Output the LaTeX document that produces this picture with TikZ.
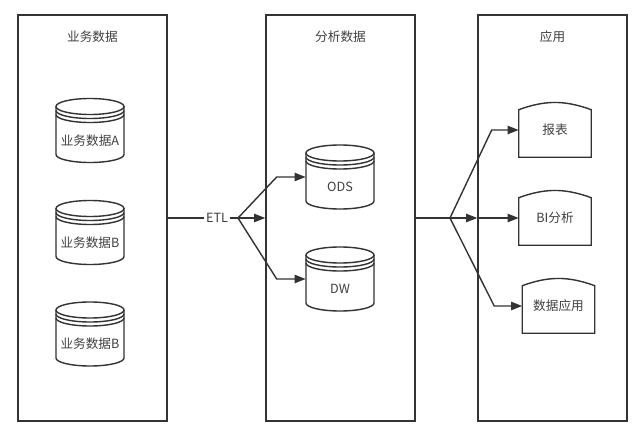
\documentclass[tikz,border=0pt]{standalone}
\usepackage{fontspec}
\setmainfont{Noto Sans CJK SC}
\usetikzlibrary{arrows.meta}
\definecolor{ink}{HTML}{333333}
\definecolor{txt}{HTML}{404040}

\tikzset{
  line/.style={draw=ink, line width=1pt},
  arr/.style={line, -{Triangle[length=2.8mm,width=2.1mm]}},
  panel/.style={line, minimum width=3.725cm, minimum height=10.15cm, inner sep=0pt},
  title/.style={text=txt, font=\fontsize{9}{11}\selectfont},
  dbbox/.style={minimum width=1.7cm, minimum height=1.6cm, inner sep=0pt},
  appbox/.style={title, minimum width=1.8cm, minimum height=1.35cm, inner sep=0pt},
}

\newcommand{\dbcyl}[4]{%
  \node[dbbox] (#1) at (#2,#3) {};
  \node[title] (#1-t) at ([yshift=-0.25cm]#1.center) {#4};
  \begin{scope}[shift={(#1.center)}]
    \draw[line] (0,-24) ellipse (34 and 8);
    \draw[line] (-34,-24) -- (-34,24) arc (180:0:34 and 8) -- (34,-24);
    \draw[line] (-34,-20) arc (180:0:34 and 8);
    \draw[line] (-34,-16) arc (180:0:34 and 8);
  \end{scope}}

\begin{document}
\begin{tikzpicture}[x=0.025cm, y=-0.025cm]
  \useasboundingbox (0,0) rectangle (640,433);

  \node[panel] (biz) at (92.5,218) {};
  \node[panel] (ana) at (340.5,218) {};
  \node[panel] (app) at (552.5,218) {};
  \node[title] (biz-t) at (92.5,37) {业务数据};
  \node[title] (ana-t) at (340.5,37) {分析数据};
  \node[title] (app-t) at (552.5,37) {应用};

  \dbcyl{srca}{90}{130.5}{业务数据A}
  \dbcyl{srcb}{90}{232.5}{业务数据B}
  \dbcyl{srcc}{90}{334}{业务数据B}
  \dbcyl{ods}{340}{177}{ODS}
  \dbcyl{dw}{340}{279}{DW}

  \node[appbox] (rep) at (555,130) {报表};
  \node[appbox] (bi) at (555,218) {BI分析};
  \node[appbox] (dapp) at (558.5,306) {数据应用};
  \foreach \n in {rep,bi,dapp}
    \draw[line] (\n.south west) -- ([yshift=-0.175cm]\n.north west)
      to[bend left=20] ([yshift=-0.175cm]\n.north east) -- (\n.south east) -- cycle;

  \node[title, inner sep=1pt] (etl) at (217,218) {ETL};
  \coordinate (s1) at (238,218);
  \coordinate (s2) at (450,218);
  \draw[line] (biz.east) -- (etl.west);
  \draw[line] (etl.east) -- (s1);
  \draw[arr] (s1) -- (ana.west);
  \draw[arr] (s1) -- ([xshift=-0.725cm]ods.west) -- (ods.west);
  \draw[arr] (s1) -- ([xshift=-0.725cm]dw.west) -- (dw.west);
  \draw[line] (ana.east) -- (s2);
  \draw[arr] (s2) -- (app.west);
  \draw[arr] (app.west) -- (bi.west);
  \draw[arr] (s2) -- ([xshift=-0.675cm]rep.west) -- (rep.west);
  \draw[arr] (s2) -- ([xshift=-0.7cm]dapp.west) -- (dapp.west);
\end{tikzpicture}
\end{document}
